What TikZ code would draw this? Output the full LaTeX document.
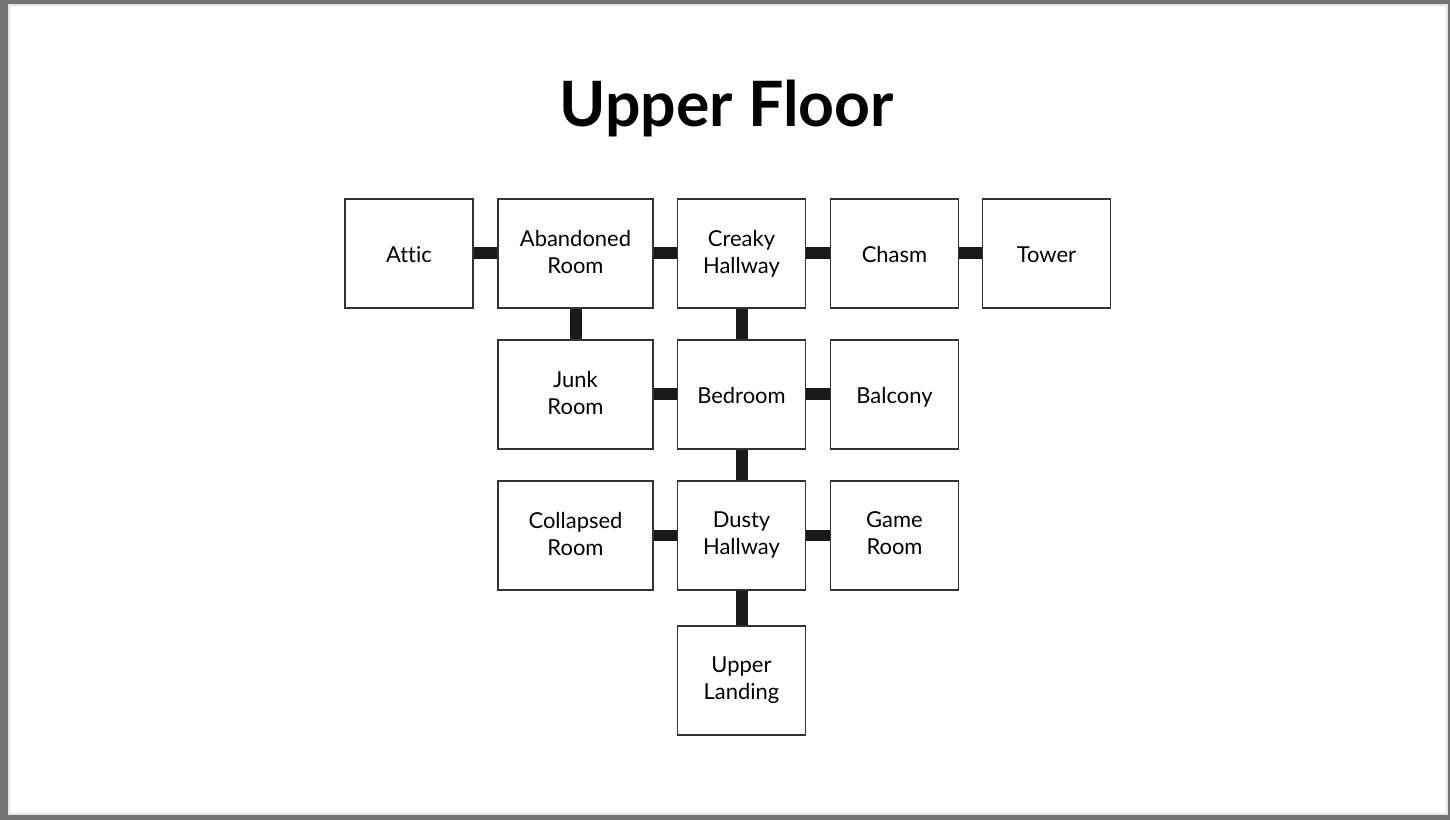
\documentclass[tikz,border=0pt]{standalone}
\usepackage{fontspec}
\setmainfont{Lato}[Ligatures=NoCommon]
\begin{document}
\begin{tikzpicture}[
    x=0.02cm, y=-0.02cm,
    room/.style={rectangle, draw=black!80, line width=0.6pt, fill=white, align=center, inner sep=0pt,
        minimum width=2.56cm, minimum height=2.18cm, font=\fontsize{12.5}{15.3}\selectfont,
        execute at begin node=\rule[-2.3pt]{0pt}{15.3pt}, execute at end node=\rule[-2.3pt]{0pt}{15.3pt}},
    wide/.style={room, minimum width=3.1cm},
    link/.style={draw=black!90, line width=0.24cm}
]
    \fill [black!55] (0,0) rectangle (1450,820);
    \filldraw [fill=white, draw=black!10, line width=1pt] (9,5) rectangle (1447,814);

    \node [font=\fontsize{35.6}{40}\bfseries] (title) at (727,109) {Upper Floor};

    \node [room] (attic) at (409,253.5) {Attic};
    \node [wide] (abandoned) at (575.5,253.5) {Abandoned\\Room};
    \node [room] (creaky) at (741.5,253.5) {Creaky\\Hallway};
    \node [room] (chasm) at (894.5,253.5) {Chasm};
    \node [room] (tower) at (1046.5,253.5) {Tower};

    \node [wide] (junk) at (575.5,394.5) {Junk\\Room};
    \node [room] (bedroom) at (741.5,394.5) {Bedroom};
    \node [room] (balcony) at (894.5,394.5) {Balcony};

    \node [wide] (collapsed) at (575.5,535.5) {Collapsed\\Room};
    \node [room] (dusty) at (741.5,535.5) {Dusty\\Hallway};
    \node [room] (game) at (894.5,535.5) {Game\\Room};

    \node [room] (landing) at (741.5,680.5) {Upper\\Landing};

    \draw [link] (attic) -- (abandoned);
    \draw [link] (abandoned) -- (creaky);
    \draw [link] (creaky) -- (chasm);
    \draw [link] (chasm) -- (tower);
    \draw [link] (abandoned) -- (junk);
    \draw [link] (creaky) -- (bedroom);
    \draw [link] (junk) -- (bedroom);
    \draw [link] (bedroom) -- (balcony);
    \draw [link] (bedroom) -- (dusty);
    \draw [link] (collapsed) -- (dusty);
    \draw [link] (dusty) -- (game);
    \draw [link] (dusty) -- (landing);
\end{tikzpicture}
\end{document}
